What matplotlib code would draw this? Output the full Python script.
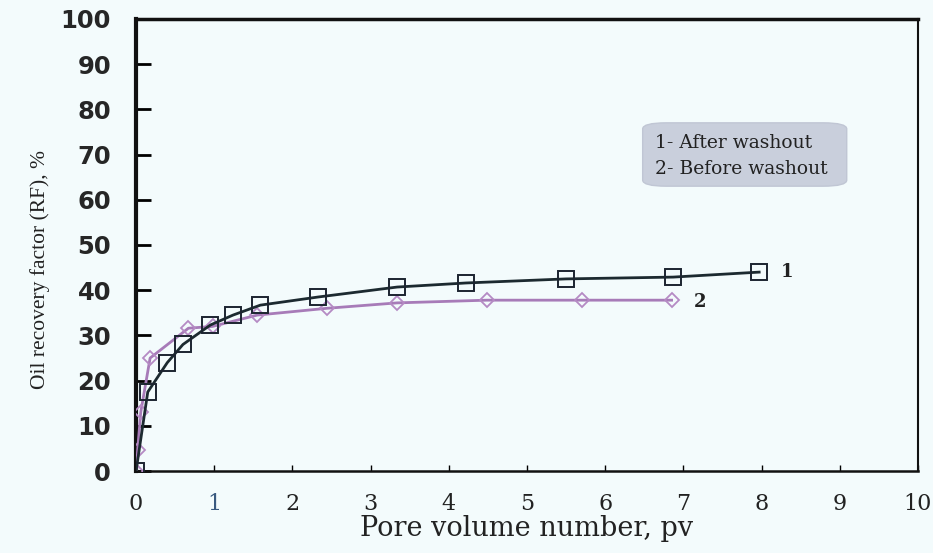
import matplotlib
matplotlib.use("Agg")
import matplotlib.pyplot as plt
from matplotlib.patches import FancyBboxPatch

# Oil recovery factor vs. injected pore volumes
pv_after = [0.0, 0.15, 0.4, 0.6, 0.95, 1.24, 1.59, 2.33, 3.34, 4.22, 5.5, 6.87, 7.97]
rf_after = [0.0, 17.5, 24.0, 28.0, 32.3, 34.5, 36.7, 38.5, 40.7, 41.6, 42.5, 42.9, 44.0]

pv_before = [0.0, 0.02, 0.06, 0.18, 0.67, 0.98, 1.55, 2.44, 3.34, 4.49, 5.7, 6.85]
rf_before = [0.0, 4.6, 13.0, 25.0, 31.6, 32.0, 34.5, 36.0, 37.2, 37.8, 37.8, 37.8]

x_ticks = [0, 1, 2, 3, 4, 5, 6, 7, 8, 9, 10]
y_ticks = [0, 10, 20, 30, 40, 50, 60, 70, 80, 90, 100]
legend_lines = ["1- After washout", "2- Before washout"]

bg = "#f3fbfc"
serif = "DejaVu Serif"
fig = plt.figure(figsize=(9.33, 5.53), dpi=100, facecolor=bg)
ax = fig.add_axes([0.1458, 0.148, 0.838, 0.818], facecolor=bg)

ax.plot(pv_before, rf_before, color="#a77bb8", lw=2.0, marker="D", ms=7,
        mfc="none", mec="#b58ac4", mew=1.3, zorder=3)
ax.plot(pv_after, rf_after, color="#1c2a30", lw=2.0, marker="s", ms=11,
        mfc="none", mec="#1c2430", mew=1.4, zorder=4)

ax.set_xlim(0, 10)
ax.set_ylim(0, 100)
ax.set_xticks(x_ticks)
ax.set_yticks(y_ticks)
ax.set_xticklabels([str(t) for t in x_ticks], family=serif, fontsize=16,
                   color="#222222")
ax.set_yticklabels([str(t) for t in y_ticks], family="DejaVu Sans",
                   fontweight="bold", fontsize=17.5, color="#262626")
ax.get_xticklabels()[1].set_color("#3a5a80")
ax.tick_params(axis="x", direction="in", length=4, width=1, pad=16)
ax.tick_params(axis="y", direction="in", length=11, width=2, pad=18)

for side in ["left", "bottom", "right", "top"]:
    ax.spines[side].set_color("#111111")
ax.spines["left"].set_linewidth(3)
ax.spines["bottom"].set_linewidth(1.8)
ax.spines["right"].set_linewidth(1.5)
ax.spines["top"].set_linewidth(2.5)

ax.set_xlabel("Pore volume number, pv", family=serif, fontsize=19.5,
              color="#222222")
ax.xaxis.set_label_coords(0.5, -0.097)
ax.set_ylabel("Oil recovery factor (RF), %", family="Liberation Serif",
              fontsize=15.5, color="#222222")
ax.yaxis.set_label_coords(-0.110, 0.445)

# curve labels at line ends
ax.text(pv_after[-1] + 0.28, rf_after[-1], "1", family=serif,
        fontsize=13, fontweight="bold", va="center", color="#222222")
ax.text(pv_before[-1] + 0.28, rf_before[-1] - 0.5, "2", family=serif,
        fontsize=13, fontweight="bold", va="center", color="#222222")

# legend box
box = FancyBboxPatch((6.48, 63.0), 2.61, 14.0, boxstyle="round,pad=0,rounding_size=0.3",
                     mutation_aspect=4.5, facecolor="#c9cfdc", edgecolor="#c0c6d4",
                     lw=1, transform=ax.transData, zorder=2)
ax.add_patch(box)
ax.text(6.64, 72.6, legend_lines[0], family=serif, fontsize=13.5,
        va="center", color="#222222", zorder=3)
ax.text(6.64, 66.9, legend_lines[1], family=serif, fontsize=13.5,
        va="center", color="#222222", zorder=3)

fig.savefig("out.png", dpi=100, facecolor=bg)
